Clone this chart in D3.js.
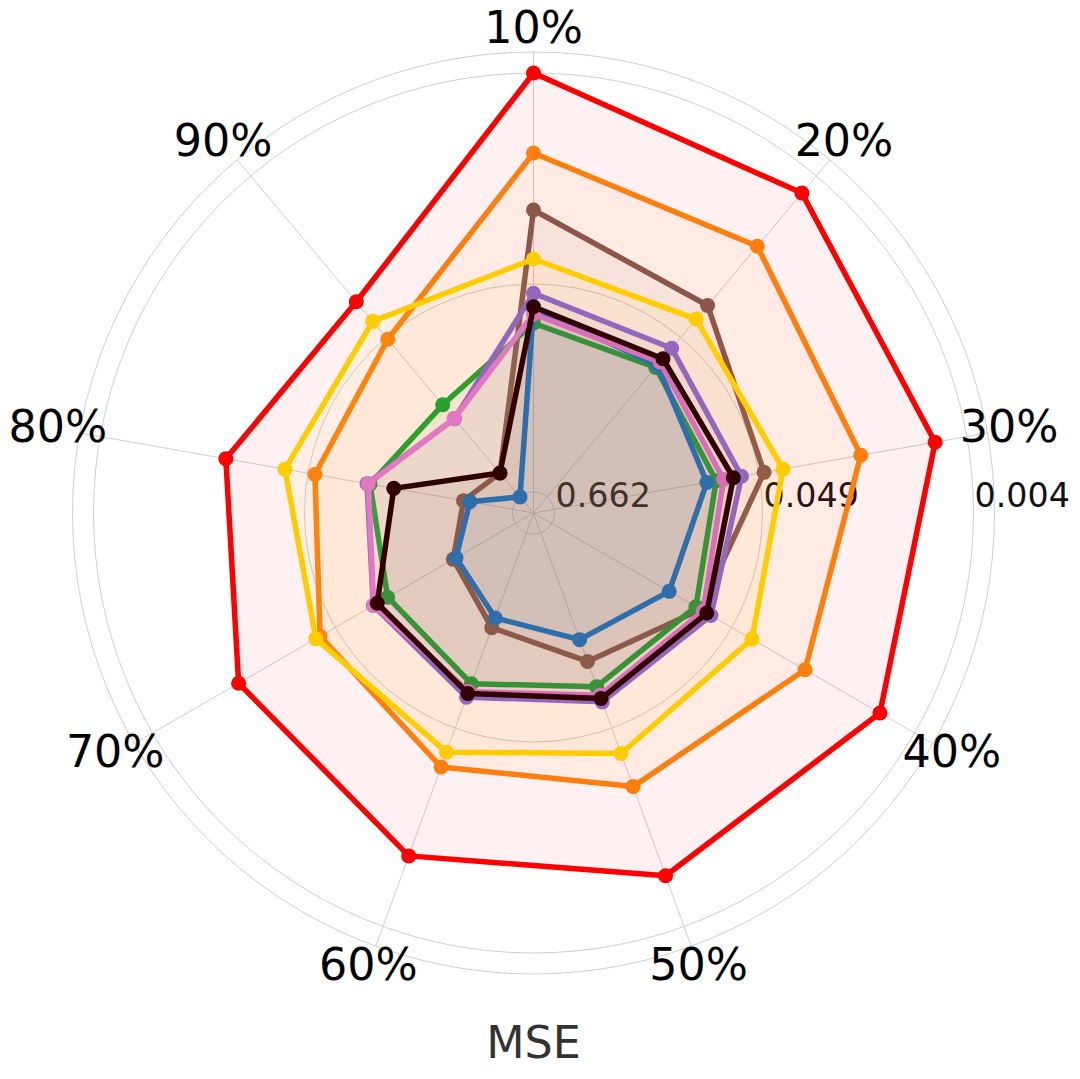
<!DOCTYPE html>
<html>
<head>
<meta charset="utf-8">
<script src="https://cdn.jsdelivr.net/npm/d3@7"></script>
<style>
    body { margin: 0; background: #fff; }
    text { font-family: "DejaVu Sans", sans-serif; }
</style>
</head>
<body>
<div id="my_chart"></div>
<script>
// missing rates (one spoke each) and the radial tick values
var rates = ["10%", "20%", "30%", "40%", "50%", "60%", "70%", "80%", "90%"];
var rTicks = [0.662, 0.049, 0.004];
var rAxisTitle = "MSE";

// MSE per missing rate for each series
var redMse    = [0.004, 0.00522, 0.00586, 0.00643, 0.00759, 0.00976, 0.01304, 0.0182, 0.02814];
var orangeMse = [0.01035, 0.0119, 0.01436, 0.01795, 0.02342, 0.0300, 0.03985, 0.0535, 0.0504];
var brownMse  = [0.02035, 0.0298, 0.0461, 0.0769, 0.1192, 0.187, 0.270, 0.354, 0.449];
var goldMse   = [0.0364, 0.0368, 0.0367, 0.0372, 0.0356, 0.0362, 0.0376, 0.0371, 0.0381];
var greenMse  = [0.0801, 0.0798, 0.0845, 0.0824, 0.0852, 0.0886, 0.1046, 0.1078, 0.1469];
var blueMse   = [0.0662, 0.0769, 0.0951, 0.1211, 0.1593, 0.2127, 0.2809, 0.3836, 0.662];
var purpleMse = [0.0550, 0.0584, 0.0612, 0.0662, 0.0696, 0.0741, 0.0850, 0.1038, 0.1847];
var pinkMse   = [0.0713, 0.0731, 0.0769, 0.0741, 0.0759, 0.0798, 0.0855, 0.1054, 0.1838];
var darkMse   = [0.0651, 0.0692, 0.0679, 0.0704, 0.0727, 0.0779, 0.0900, 0.1458, 0.448];

// drawing order = list order
var seriesValues = [redMse, orangeMse, brownMse, goldMse, greenMse, blueMse, purpleMse, pinkMse, darkMse];
var seriesColors = ["#ff0000", "#ff7f0e", "#8c564b", "#ffcc00", "#2ca02c", "#1f77b4", "#9467bd", "#e377c2", "#300000"];

// set the dimensions of the graph
var width = 1080,
    height = 1079,
    cx = 533.5,
    cy = 513,
    rOuter = 461;

var svg = d3.select("#my_chart")
    .append("svg")
    .attr("width", width)
    .attr("height", height);

svg.append("rect")
    .attr("width", width)
    .attr("height", height)
    .attr("fill", "#fff");

var g = svg.append("g")
    .attr("transform", "translate(" + cx + "," + cy + ")");

// radial scale: small MSE sits far out
var r = d3.scaleLog()
    .domain(rTicks)
    .range([21, 229, 440]);

// angle scale, clockwise from the top
var angle = d3.scaleLinear()
    .domain([0, rates.length])
    .range([0, 2 * Math.PI]);

var gridColor = "#cfcfcf";

// circular grid
g.selectAll(".grid")
    .data(rTicks.map(function (d) { return r(d); }).concat([rOuter]))
    .enter()
    .append("circle")
    .attr("class", "grid")
    .attr("r", function (d) { return d; })
    .attr("fill", "none")
    .attr("stroke", gridColor)
    .attr("stroke-width", 1);

// spokes
g.selectAll(".spoke")
    .data(rates)
    .enter()
    .append("line")
    .attr("class", "spoke")
    .attr("x1", 0)
    .attr("y1", 0)
    .attr("x2", function (d, i) { return rOuter * Math.sin(angle(i)); })
    .attr("y2", function (d, i) { return -rOuter * Math.cos(angle(i)); })
    .attr("stroke", gridColor)
    .attr("stroke-width", 1);

// radial tick labels (under the fills)
g.selectAll(".rtick")
    .data(rTicks)
    .enter()
    .append("text")
    .attr("class", "rtick")
    .attr("x", function (d) { return r(d) + 1; })
    .attr("y", -6)
    .style("font-size", "33.3px")
    .style("fill", "#111")
    .text(function (d) { return d3.format(".3f")(d); });

// spoke labels
var labelR = 483;
g.selectAll(".rate")
    .data(rates)
    .enter()
    .append("text")
    .attr("class", "rate")
    .attr("x", function (d, i) { return labelR * Math.sin(angle(i)); })
    .attr("y", function (d, i) { return -labelR * Math.cos(angle(i)) + 12.7; })
    .attr("text-anchor", "middle")
    .style("font-size", "44.4px")
    .style("fill", "#000")
    .text(function (d) { return d; });

// radar shapes
var radarLine = d3.lineRadial()
    .angle(function (d, i) { return angle(i); })
    .radius(function (d) { return r(d); })
    .curve(d3.curveLinearClosed);

seriesValues.forEach(function (values, k) {
    var color = seriesColors[k];
    var sg = g.append("g");

    sg.append("path")
        .datum(values)
        .attr("d", radarLine)
        .attr("fill", color)
        .attr("fill-opacity", 0.055)
        .attr("stroke", "none");

    sg.append("path")
        .datum(values)
        .attr("d", radarLine)
        .attr("fill", "none")
        .attr("stroke", color)
        .attr("stroke-width", 5.5)
        .attr("stroke-linejoin", "round");

    sg.selectAll("circle")
        .data(values)
        .enter()
        .append("circle")
        .attr("cx", function (d, i) { return r(d) * Math.sin(angle(i)); })
        .attr("cy", function (d, i) { return -r(d) * Math.cos(angle(i)); })
        .attr("r", 7.5)
        .attr("fill", color);
});

// radial axis title
svg.append("text")
    .attr("x", cx)
    .attr("y", 1058)
    .attr("text-anchor", "middle")
    .style("font-size", "44.4px")
    .style("fill", "#333")
    .text(rAxisTitle);
</script>
</body>
</html>
